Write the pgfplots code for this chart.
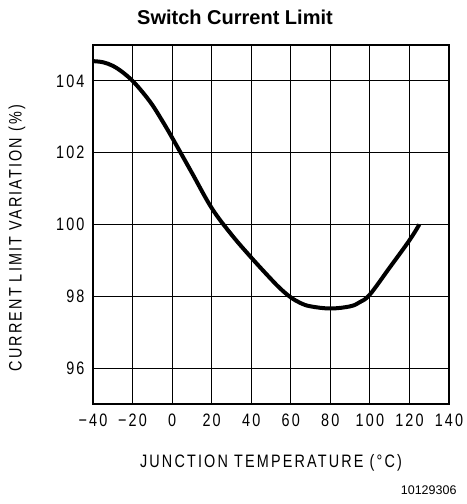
\documentclass[border=0pt]{standalone}
\usepackage{pgfplots}
\pgfplotsset{compat=1.18}
\usepackage{fontspec}
\setmainfont{Liberation Sans}
\newfontfamily\lblfont[FakeStretch=0.8,LetterSpace=12]{Liberation Sans}

\pgfplotstableread{
T    V
-40  104.55
-35  104.52
-30  104.42
-25  104.24
-20  104.00
-15  103.69
-10  103.33
-5   102.89
0    102.42
10   101.44
20   100.46
30   99.72
40   99.08
50   98.48
55   98.20
60   97.97
65   97.81
70   97.72
80   97.66
90   97.72
95   97.84
100  98.05
110  98.80
120  99.56
125  100.00
}\limitdata

\begin{document}
\begin{tikzpicture}
  \begin{axis}[
    at={(0,0)}, anchor=south west,
    scale only axis, width=356bp, height=359bp,
    xmin=-40, xmax=140, ymin=95, ymax=105,
    xtick={-40,-20,...,140},
    xticklabels={−40,−20,0,20,40,60,80,100,120,140},
    ytick={96,98,100,102,104},
    yticklabels={96,98,100,102,104},
    major tick length=0pt,
    grid=major,
    major grid style={black, line width=1.1bp},
    axis line style={black, line width=1.4bp},
    xticklabel style={font=\lblfont\fontsize{18bp}{18bp}\selectfont, anchor=north, yshift=-6bp},
    yticklabel style={font=\lblfont\fontsize{18bp}{18bp}\selectfont, anchor=east, xshift=-5bp},
    clip=false,
  ]
    \addplot[black, line width=4bp, smooth, tension=0.6] table[x=T, y=V] {\limitdata};
    \node[font=\lblfont\fontsize{18bp}{18bp}\selectfont] at (rel axis cs:0.5,0) [yshift=-59bp] {JUNCTION TEMPERATURE (°C)};
    \node[font=\lblfont\fontsize{18bp}{18bp}\selectfont, rotate=90] at ([xshift=-76bp]rel axis cs:0,0.462) {CURRENT LIMIT VARIATION (\%)};
    \node[font=\bfseries\fontsize{20bp}{20bp}\selectfont] at (rel axis cs:0,1) [xshift=142bp, yshift=27.5bp] {Switch Current Limit};
    \node[font=\fontsize{12.5bp}{12.5bp}\selectfont, anchor=east] at (rel axis cs:1,0) [xshift=11bp, yshift=-86bp] {10129306};
  \end{axis}
  \pgfresetboundingbox
  \path (-93bp,-100bp) rectangle (374bp,404bp);
\end{tikzpicture}
\end{document}
